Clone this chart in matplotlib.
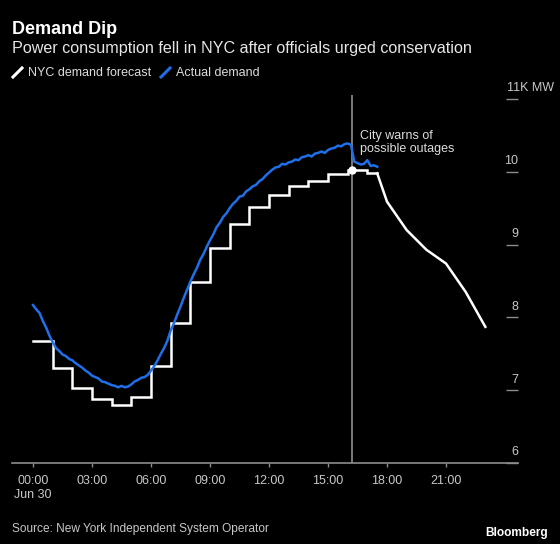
import matplotlib
matplotlib.use("Agg")
import matplotlib.pyplot as plt
from matplotlib.lines import Line2D
from matplotlib.transforms import blended_transform_factory
import numpy as np

plt.rcParams['font.family'] = ['Liberation Sans', 'DejaVu Sans']

# NYISO forecast, thousand MW, hourly steps up to the last actual reading
forecast_hours = list(range(18))
forecast_steps = [7.67, 7.30, 7.03, 6.88, 6.80, 6.90, 7.33, 7.93, 8.48, 8.95,
                  9.28, 9.51, 9.68, 9.80, 9.88, 9.97, 10.03, 9.98]
# forecast for the rest of the evening
ahead_hours = [17.5, 18, 19, 20, 21, 22, 23]
ahead_values = [9.98, 9.59, 9.20, 8.93, 8.74, 8.35, 7.87]

# actual load, every 10 minutes from 00:00
actual = [
    8.17, 8.11, 8.06, 7.95, 7.86, 7.75,
    7.66, 7.58, 7.54, 7.49, 7.47, 7.43,
    7.41, 7.37, 7.34, 7.31, 7.27, 7.24,
    7.20, 7.18, 7.16, 7.12, 7.11, 7.09,
    7.07, 7.06, 7.04, 7.06, 7.04, 7.05,
    7.08, 7.12, 7.14, 7.17, 7.18, 7.21,
    7.27, 7.33, 7.41, 7.50, 7.58, 7.68,
    7.82, 7.92, 8.04, 8.15, 8.27, 8.38,
    8.49, 8.59, 8.68, 8.79, 8.87, 8.97,
    9.06, 9.14, 9.24, 9.30, 9.38, 9.43,
    9.50, 9.56, 9.60, 9.66, 9.67, 9.73,
    9.76, 9.80, 9.82, 9.87, 9.90, 9.95,
    9.99, 10.03, 10.06, 10.07, 10.11, 10.10,
    10.13, 10.14, 10.17, 10.16, 10.20, 10.21,
    10.23, 10.21, 10.25, 10.26, 10.28, 10.26,
    10.30, 10.32, 10.33, 10.36, 10.35, 10.38,
    10.39, 10.37, 10.14, 10.12, 10.10, 10.11,
    10.16, 10.08, 10.09, 10.07,
]
actual_hours = np.arange(len(actual)) / 6

event_hour = 16.2  # 16:12, city warning
tick_hours = [0, 3, 6, 9, 12, 15, 18, 21]
tick_labels = ['00:00', '03:00', '06:00', '09:00', '12:00', '15:00', '18:00', '21:00']
date_label = 'Jun 30'
y_ticks = [6, 7, 8, 9, 10, 11]

BG = 'black'
BLUE = '#1f6fe8'
GRAY = '#8c8c8c'
TXT = '#c8c8c8'

fig = plt.figure(figsize=(5.6, 5.44), dpi=100, facecolor=BG)
ax = fig.add_axes([0.02143, 0.1489, 0.90357, 0.67574], facecolor=BG)

step_x = forecast_hours + [ahead_hours[0]]
step_y = forecast_steps + [forecast_steps[-1]]
ax.plot(step_x, step_y, color='white', lw=1.8, drawstyle='steps-post',
        solid_joinstyle='miter', zorder=3)
ax.plot(ahead_hours, ahead_values, color='white', lw=1.8, zorder=3)
ax.plot(actual_hours, actual, color=BLUE, lw=1.8, zorder=4)

ax.axvline(event_hour, color='#9a9a9a', lw=1.1, zorder=2)
ax.plot([event_hour], [forecast_steps[16]], 'o', color='white', ms=5, zorder=5)
ax.text(event_hour + 0.45, 10.57, 'City warns of\npossible outages', color='#dcdcdc',
        fontsize=9, va='top', ha='left', linespacing=1.05)

ax.set_xlim(-1.068, 24.66)
ax.set_ylim(6, 11.05)

for s in ['top', 'left', 'right']:
    ax.spines[s].set_visible(False)
ax.spines['bottom'].set_color(GRAY)
ax.spines['bottom'].set_linewidth(1.2)

ax.set_xticks(tick_hours)
ax.set_xticklabels(tick_labels)
ax.tick_params(axis='x', colors=GRAY, length=3, width=1, pad=6,
               labelcolor=TXT, labelsize=9)
ax.annotate(date_label, xy=(tick_hours[0], 0), xycoords=('data', 'axes fraction'),
            xytext=(0, -25), textcoords='offset points', ha='center',
            va='baseline', color=TXT, fontsize=9)

ax.yaxis.tick_right()
ax.set_yticks(y_ticks)
ax.tick_params(axis='y', direction='in', length=8.6, width=1, colors=GRAY,
               labelright=False)
trans = blended_transform_factory(ax.transAxes, ax.transData)
for v in y_ticks[:-1]:
    ax.annotate(str(v), xy=(1, v), xycoords=trans, xytext=(0, 5.5),
                textcoords='offset points', ha='right', va='baseline',
                color=TXT, fontsize=9)
ax.annotate('11K MW', xy=(0.978, y_ticks[-1]), xycoords=trans, xytext=(0, 5.5),
            textcoords='offset points', ha='left', va='baseline',
            color=TXT, fontsize=9)

# header
fig.text(12 / 560, 1 - 34.5 / 544, 'Demand Dip', color='white', fontsize=13,
         fontweight='bold', va='baseline')
fig.text(12 / 560, 1 - 53.5 / 544,
         'Power consumption fell in NYC after officials urged conservation',
         color='#e6e6e6', fontsize=11.6, va='baseline')

# legend
fig.add_artist(Line2D([13 / 560, 22 / 560], [1 - 77 / 544, 1 - 68 / 544],
                      color='white', lw=2.2, transform=fig.transFigure))
fig.text(28 / 560, 1 - 72.7 / 544, 'NYC demand forecast', color='#dcdcdc',
         fontsize=9, va='center')
fig.add_artist(Line2D([161 / 560, 170 / 560], [1 - 77 / 544, 1 - 68 / 544],
                      color=BLUE, lw=2.2, transform=fig.transFigure))
fig.text(176 / 560, 1 - 72.7 / 544, 'Actual demand', color='#dcdcdc',
         fontsize=9, va='center')

# footer
fig.text(12 / 560, 1 - 532 / 544, 'Source: New York Independent System Operator',
         color=TXT, fontsize=8.6, va='baseline')
fig.text(548 / 560, 1 - 536 / 544, 'Bloomberg', color='white', fontsize=8.6,
         fontweight='bold', ha='right', va='baseline')

fig.savefig('out.png', dpi=100, facecolor=BG)
